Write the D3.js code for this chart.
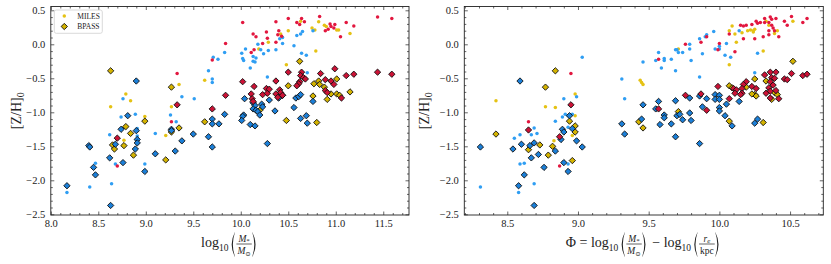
<!DOCTYPE html>
<html><head><meta charset="utf-8">
<script src="https://cdn.jsdelivr.net/npm/d3@7"></script>
<style>body{margin:0;background:#fff}svg{display:block}text{font-family:"Liberation Serif","DejaVu Serif",serif;fill:#222;white-space:pre}</style>
</head><body><svg id="c" width="831" height="264"></svg>
<script>
// ---------------- DATA ----------------
const yTicks = [-2.5, -2.0, -1.5, -1.0, -0.5, 0.0, 0.5];
const xTicksLeft = [8.0, 8.5, 9.0, 9.5, 10.0, 10.5, 11.0, 11.5];
const xTicksRight = [8.5, 9.0, 9.5, 10.0, 10.5];
const legendLabels = ["MILES", "BPASS"];

// Left panel: x = log10(M*/Msun)
const leftMilesYellow = [[8.63,-0.92],[8.79,-0.73],[8.84,-0.83],[8.99,-1.06],[9.27,-0.92],[9.35,-0.59],[9.62,-0.53],[8.77,-1.41],[9.21,-1.34],[10.29,0.03],[10.19,-0.07],[10.50,0.20],[10.42,0.15],[10.63,0.34],[10.82,0.33],[10.75,0.24],[10.78,0.21],[10.88,0.28],[10.90,0.26],[11.01,0.21],[11.03,0.21],[11.15,0.16],[10.79,-0.10],[10.48,-0.30]];
const leftMilesRed = [[9.33,-0.43],[9.27,-1.14],[8.70,-1.79],[10.02,0.32],[10.37,0.33],[10.50,0.38],[10.59,0.32],[10.62,0.29],[10.64,0.38],[10.67,0.33],[10.83,0.41],[10.94,0.30],[10.99,0.29],[10.95,0.26],[10.98,0.24],[10.89,0.20],[10.92,0.22],[11.11,0.32],[11.19,0.27],[11.05,0.11],[11.44,0.40],[11.59,0.38],[10.40,0.20],[10.39,0.14],[10.43,0.12],[10.27,0.18],[10.28,0.09],[10.13,0.15],[10.16,0.11],[10.23,0.01],[10.37,0.03],[10.14,-0.08],[10.11,-0.12],[9.84,0.01],[9.70,-0.23]];
const leftMilesBlue = [[9.66,-0.39],[8.76,-0.80],[8.89,-1.03],[8.74,-1.07],[9.38,-0.77],[9.51,-0.80],[9.26,-1.04],[9.32,-1.14],[8.91,-1.24],[8.62,-1.33],[8.91,-1.35],[9.10,-1.31],[8.68,-1.76],[8.47,-1.75],[8.99,-1.76],[8.17,-2.18],[8.41,-2.10],[8.64,-2.05],[10.41,0.08],[10.44,0.10],[10.44,0.01],[10.18,0.00],[10.21,-0.08],[10.24,-0.14],[10.29,-0.09],[10.37,-0.08],[10.05,-0.07],[10.01,-0.13],[10.02,-0.21],[10.03,-0.24],[10.13,-0.18],[10.16,-0.20],[10.13,-0.25],[10.15,-0.26],[10.10,-0.35],[10.56,-0.02],[10.59,0.13],[10.65,0.19],[10.63,0.15],[10.76,0.20],[10.64,-0.13],[10.69,-0.16],[9.83,-0.12],[9.71,-0.19],[9.76,-0.22],[9.70,-0.51],[9.70,-0.56],[10.28,-0.48],[10.70,-0.42]];
const leftBpassYellow = [[8.63,-0.39],[9.27,-0.63],[8.99,-1.13],[9.62,-1.14],[8.79,-1.21],[8.84,-1.31],[8.65,-1.48],[8.77,-1.49],[8.67,-1.54],[8.87,-1.63],[9.27,-1.29],[9.35,-1.23],[9.21,-1.70],[10.62,-0.25],[10.50,-0.61],[11.01,-0.51],[10.77,-0.58],[10.82,-0.54],[10.83,-0.59],[10.88,-0.63],[10.95,-0.73],[11.01,-0.73],[11.04,-0.75],[11.15,-0.70],[10.91,-0.81],[10.76,-0.76],[10.20,-0.97],[10.48,-1.12],[10.80,-1.15]];
const leftBpassRed = [[9.33,-0.89],[8.70,-1.38],[10.02,-0.55],[10.14,-0.62],[10.37,-0.54],[10.50,-0.41],[10.64,-0.41],[10.63,-0.46],[10.66,-0.49],[10.68,-0.51],[10.62,-0.55],[10.61,-0.58],[10.59,-0.61],[10.84,-0.43],[10.99,-0.36],[11.11,-0.46],[11.19,-0.44],[11.44,-0.41],[11.59,-0.44],[10.89,-0.52],[10.95,-0.54],[10.98,-0.59],[10.89,-0.68],[10.91,-0.71],[11.06,-0.79],[9.84,-0.75],[9.70,-0.95],[10.11,-0.73],[10.12,-0.80],[10.13,-0.84],[10.23,-0.74],[10.27,-0.65],[10.28,-0.72],[10.30,-0.66],[10.37,-0.73],[10.41,-0.67],[10.42,-0.71],[10.44,-0.75],[10.39,-0.78]];
const leftBpassBlue = [[8.90,-0.54],[8.81,-1.05],[8.74,-1.25],[8.90,-1.27],[8.68,-1.47],[8.91,-1.40],[8.91,-1.45],[8.89,-1.54],[8.40,-1.49],[8.41,-1.51],[8.62,-1.67],[9.27,-1.25],[9.27,-1.27],[9.50,-1.32],[9.66,-1.36],[9.10,-1.61],[9.31,-1.57],[9.38,-1.42],[8.76,-1.74],[8.45,-1.81],[8.47,-1.92],[8.99,-1.87],[8.17,-2.08],[8.63,-2.37],[9.70,-1.51],[10.28,-1.46],[10.04,-0.80],[10.40,-0.79],[10.44,-0.75],[10.30,-0.82],[10.13,-0.86],[10.15,-0.90],[10.13,-0.95],[10.16,-0.97],[10.22,-0.88],[10.23,-0.92],[10.18,-0.99],[10.20,-1.04],[10.36,-0.98],[10.56,-0.93],[10.58,-0.79],[10.61,-0.77],[10.63,-0.74],[10.76,-0.84],[9.83,-1.03],[10.03,-1.04],[10.02,-1.06],[10.01,-1.12],[10.63,-1.09],[10.69,-1.05],[10.70,-1.16],[9.70,-1.10],[9.70,-1.17],[9.77,-1.17],[10.10,-1.18],[10.15,-1.20]];

// Right panel: x = Phi
const rightMilesYellow = [[8.42,-0.83],[8.98,-0.73],[8.77,-0.92],[8.84,-0.93],[8.98,-1.05],[8.83,-1.42],[8.96,-1.34],[9.44,-0.53],[9.45,-0.56],[9.46,-0.59],[10.33,0.34],[10.35,0.28],[10.52,0.34],[10.41,0.20],[10.39,0.16],[10.25,0.22],[10.24,0.20],[10.24,0.18],[10.22,0.21],[10.20,0.20],[10.16,0.17],[10.09,0.27],[10.07,0.20],[10.11,0.15],[10.12,0.03],[9.71,-0.07],[10.07,-0.30],[10.31,-0.10]];
const rightMilesRed = [[8.95,-0.43],[8.65,-1.14],[8.87,-1.79],[10.32,0.38],[10.36,0.40],[10.37,0.37],[10.40,0.38],[10.32,0.32],[10.26,0.34],[10.27,0.31],[10.29,0.32],[10.23,0.29],[10.19,0.28],[10.17,0.27],[10.15,0.28],[10.51,0.41],[10.59,0.32],[10.62,0.38],[10.46,0.34],[10.48,0.28],[10.35,0.32],[10.37,0.28],[10.38,0.24],[10.35,0.20],[10.39,0.20],[10.42,0.11],[10.35,0.14],[10.31,0.11],[10.25,0.08],[10.07,0.15],[10.17,0.08],[10.11,-0.11],[10.00,0.01],[9.99,-0.08],[9.91,0.11],[9.87,0.03],[9.76,0.00],[9.57,-0.22]];
const rightMilesBlue = [[9.03,-0.19],[8.90,-0.80],[8.99,-0.77],[8.91,-1.03],[8.89,-1.07],[8.93,-1.05],[8.96,-1.03],[8.84,-1.13],[8.69,-1.23],[8.55,-1.38],[8.59,-1.33],[8.67,-1.33],[8.71,-1.31],[8.59,-1.76],[8.62,-1.75],[8.58,-2.18],[8.69,-2.05],[8.93,-1.76],[8.93,-1.22],[8.31,-2.10],[10.14,0.20],[10.05,0.01],[10.00,-0.03],[10.00,-0.07],[9.97,-0.07],[9.96,0.19],[9.91,0.14],[9.90,0.11],[9.86,0.08],[9.79,0.00],[9.79,-0.07],[9.70,-0.08],[9.69,-0.08],[9.71,-0.12],[9.74,-0.12],[9.66,-0.22],[9.61,-0.21],[9.61,-0.24],[9.55,-0.24],[9.57,-0.12],[9.88,-0.14],[9.80,-0.24],[9.46,-0.26],[9.59,-0.35],[9.69,-0.39],[9.86,-0.48],[9.31,-0.51],[9.33,-0.80],[10.04,-0.16],[10.08,-0.19],[10.27,-0.13],[10.25,-0.42]];
const rightBpassYellow = [[8.84,-0.39],[8.77,-0.63],[8.42,-1.32],[8.65,-1.55],[8.73,-1.48],[8.79,-1.63],[8.82,-1.50],[8.96,-1.71],[8.98,-1.20],[8.98,-1.29],[8.94,-1.13],[9.43,-1.14],[9.46,-1.23],[9.71,-0.99],[10.07,-1.13],[10.52,-0.25],[10.25,-0.51],[10.33,-0.54],[10.19,-0.63],[10.07,-0.61],[10.09,-0.64],[10.25,-0.74],[10.26,-0.76],[10.23,-0.73],[10.39,-0.71],[10.41,-0.74],[10.37,-0.81],[10.31,-1.15]];
const rightBpassRed = [[8.95,-0.89],[8.65,-1.26],[8.87,-1.36],[10.32,-0.45],[10.36,-0.41],[10.37,-0.49],[10.39,-0.50],[10.40,-0.41],[10.46,-0.51],[10.48,-0.52],[10.51,-0.43],[10.59,-0.46],[10.62,-0.44],[10.36,-0.55],[10.38,-0.60],[10.35,-0.64],[10.19,-0.55],[10.17,-0.59],[10.16,-0.65],[10.23,-0.62],[10.26,-0.65],[10.10,-0.65],[10.12,-0.67],[10.11,-0.72],[10.07,-0.80],[10.16,-0.72],[10.15,-0.74],[10.33,-0.72],[10.36,-0.69],[10.40,-0.68],[10.36,-0.79],[10.42,-0.80],[9.99,-0.62],[9.87,-0.73],[9.76,-0.75],[9.91,-0.97],[9.57,-0.95]];
const rightBpassBlue = [[8.59,-0.54],[8.94,-1.05],[8.31,-1.51],[8.54,-1.54],[8.60,-1.47],[8.66,-1.49],[8.69,-1.45],[8.72,-1.62],[8.67,-1.67],[8.76,-1.81],[8.62,-1.92],[8.58,-2.08],[8.69,-2.37],[8.84,-1.57],[8.89,-1.25],[8.90,-1.29],[8.88,-1.40],[8.90,-1.74],[8.93,-1.87],[8.96,-1.24],[8.99,-1.42],[9.03,-1.51],[9.31,-1.17],[9.33,-1.32],[9.45,-1.10],[9.46,-0.89],[9.57,-0.84],[9.55,-0.95],[9.61,-1.04],[9.61,-1.08],[9.58,-1.18],[9.66,-1.17],[9.69,-0.83],[9.69,-1.36],[9.70,-1.05],[9.72,-1.03],[9.74,-1.11],[9.79,-1.01],[9.80,-1.12],[9.79,-0.79],[9.86,-0.76],[9.91,-0.80],[9.88,-0.92],[9.86,-1.46],[9.97,-0.74],[10.00,-0.75],[9.97,-0.81],[10.00,-0.81],[10.00,-0.93],[10.00,-0.98],[10.04,-1.05],[10.05,-0.88],[10.09,-1.20],[10.14,-0.84],[10.27,-1.10],[10.25,-1.16]];

// ---------------- STYLE ----------------
const milesColor = {yellow:"#e5c214", blue:"#2f9ef3", red:"#e2173f"};
const bpassColor = {yellow:"#d4b300", blue:"#1b7fd8", red:"#cc1236"};
const ink = "#222";

const svg = d3.select("#c");
const yRange = [215, 6.5];
const yDomain = [-2.5103, 0.5559];

const panels = [
  {x0:50.8, x1:409, dom:[8.0, 11.771], ticks:xTicksLeft,
   miles:{yellow:leftMilesYellow, blue:leftMilesBlue, red:leftMilesRed},
   bpass:{yellow:leftBpassYellow, blue:leftBpassBlue, red:leftBpassRed}, ylabX:20.5},
  {x0:464.3, x1:823.3, dom:[8.196, 10.735], ticks:xTicksRight,
   miles:{yellow:rightMilesYellow, blue:rightMilesBlue, red:rightMilesRed},
   bpass:{yellow:rightBpassYellow, blue:rightBpassBlue, red:rightBpassRed}, ylabX:428.5}
];

function minorVals(dom, step){
  const out=[]; const s=Math.ceil(dom[0]/step-1e-9), e=Math.floor(dom[1]/step+1e-9);
  for(let i=s;i<=e;i++){ const v=+(i*step).toFixed(3); if(Math.abs(v/0.5-Math.round(v/0.5))>1e-6) out.push(v);} return out;
}
const fmt = d3.format(".1f");
const diamond = d3.symbol(d3.symbolSquare, 20);

panels.forEach(p=>{
  const x = d3.scaleLinear().domain(p.dom).range([p.x0,p.x1]);
  const y = d3.scaleLinear().domain(yDomain).range(yRange);
  const g = svg.append("g");

  ["yellow","blue","red"].forEach(c=>{
    g.append("g").selectAll("circle").data(p.miles[c]).join("circle")
      .attr("cx",d=>x(d[0])).attr("cy",d=>y(d[1])).attr("r",1.75).attr("fill",milesColor[c]);
  });
  ["yellow","blue","red"].forEach(c=>{
    g.append("g").selectAll("path").data(p.bpass[c]).join("path")
      .attr("d",diamond).attr("transform",d=>`translate(${x(d[0])},${y(d[1])}) rotate(45)`)
      .attr("fill",bpassColor[c]).attr("stroke","#111").attr("stroke-width",0.85);
  });

  const mkAx = (axis, tr, vals, size, labels)=>{
    const a = g.append("g").attr("transform",tr)
      .call(axis.tickValues(vals).tickSize(size).tickPadding(labels?4.5:0).tickFormat(labels?fmt:()=>""));
    a.select(".domain").remove();
    a.selectAll("line").attr("stroke",ink).attr("stroke-width",0.7);
    a.selectAll("text").attr("font-size",10.5).attr("font-family",'"Liberation Serif",serif').attr("fill",ink);
    return a;
  };
  const xMin = minorVals(p.dom, 0.1), yMin = minorVals(yDomain, 0.1);
  mkAx(d3.axisBottom(x), `translate(0,${yRange[0]})`, p.ticks, -3.5, true);
  mkAx(d3.axisBottom(x), `translate(0,${yRange[0]})`, xMin, -2, false);
  mkAx(d3.axisTop(x), `translate(0,${yRange[1]})`, p.ticks, -3.5, false);
  mkAx(d3.axisTop(x), `translate(0,${yRange[1]})`, xMin, -2, false);
  mkAx(d3.axisLeft(y), `translate(${p.x0},0)`, yTicks, -3.5, true).selectAll("text").attr("dx","-1");
  mkAx(d3.axisLeft(y), `translate(${p.x0},0)`, yMin, -2, false);
  mkAx(d3.axisRight(y), `translate(${p.x1},0)`, yTicks, -3.5, false);
  mkAx(d3.axisRight(y), `translate(${p.x1},0)`, yMin, -2, false);

  g.append("rect").attr("x",p.x0).attr("y",yRange[1]).attr("width",p.x1-p.x0).attr("height",yRange[0]-yRange[1])
    .attr("fill","none").attr("stroke",ink).attr("stroke-width",0.9);

  const yl = g.append("text").attr("transform",`translate(${p.ylabX},${(yRange[0]+yRange[1])/2}) rotate(-90)`)
    .attr("text-anchor","middle").attr("font-size",14);
  yl.append("tspan").text("[Z/H]");
  yl.append("tspan").attr("dy",3).attr("font-size",10).text("0");
});

// ---- math-like x labels ----
function run(g, x, y, str, size, italic){
  const t = g.append("text").attr("x",x).attr("y",y).attr("font-size",size)
    .style("font-style", italic?"italic":"normal").text(str);
  return t.node().getComputedTextLength();
}
function seq(g, x, items){ let w=0; items.forEach(it=>{ w += run(g, x+w, it[3]||0, it[0], it[1], it[2]) + (it[4]||0); }); return w; }
function frac(g, x, num, den){
  const gn = g.append("g"), gd = g.append("g");
  const wn = seq(gn, 0, num), wd = seq(gd, 0, den);
  const W = Math.max(wn, wd) + 2;
  gn.attr("transform",`translate(${x+(W-wn)/2},-5.5)`);
  gd.attr("transform",`translate(${x+(W-wd)/2},7)`);
  g.append("line").attr("x1",x).attr("x2",x+W).attr("y1",-3).attr("y2",-3).attr("stroke",ink).attr("stroke-width",0.7);
  return W;
}
function paren(g, x, left){
  const top=-15, bot=10, mid=(top+bot)/2, w=5;
  let d;
  if(left) d=`M${x+w},${top} Q${x-1.5},${mid} ${x+w},${bot} L${x+w},${bot-0.6} Q${x+0.9},${mid} ${x+w},${top+0.6} Z`;
  else d=`M${x},${top} Q${x+w+1.5},${mid} ${x},${bot} L${x},${bot-0.6} Q${x+w-0.9},${mid} ${x},${top+0.6} Z`;
  g.append("path").attr("d",d).attr("fill",ink);
  return w+1.5;
}
function logPart(g, x){ return seq(g, x, [["log",14,false],["10",9.5,false,3.5,1.5]]); }
function logMass(g, x){
  let w = logPart(g, x);
  w += paren(g, x+w, true);
  w += frac(g, x+w, [["M",9.5,true],["*",7,false,1.5]], [["M",9.5,true],["\u2299",6.5,false,1.5]]);
  w += 0.5 + paren(g, x+w+0.5, false);
  return w;
}
{
  const p = panels[0];
  const g = svg.append("g");
  const w = logMass(g, 0);
  g.attr("transform",`translate(${(p.x0+p.x1)/2 - w/2},247)`);
}
{
  const p = panels[1];
  const g = svg.append("g");
  let w = seq(g, 0, [["\u03A6",14,false,0,3.5],["=",14,false,0,3.5]]);
  w += logMass(g, w);
  w += 3.5 + seq(g, w+3.5, [["\u2212",14,false,0,3.5]]);
  w += logPart(g, w);
  w += paren(g, w, true);
  w += frac(g, w, [["r",9.5,true],["e",7,true,1.5]], [["kpc",9.5,false]]);
  w += 0.5 + paren(g, w+0.5, false);
  g.attr("transform",`translate(${(p.x0+p.x1)/2 - w/2},247)`);
}

// ---- legend ----
{
  const lg = svg.append("g");
  lg.append("rect").attr("x",54.3).attr("y",10).attr("width",48).attr("height",23.3).attr("rx",2)
    .attr("fill","#fff").attr("fill-opacity",0.85).attr("stroke","#d0d0d0").attr("stroke-width",0.8);
  lg.append("circle").attr("cx",64.3).attr("cy",16).attr("r",1.75).attr("fill",milesColor.yellow);
  lg.append("path").attr("d",diamond).attr("transform","translate(64.3,26.5) rotate(45)")
    .attr("fill",bpassColor.yellow).attr("stroke","#111").attr("stroke-width",0.85);
  lg.selectAll("text.l").data(legendLabels).join("text").attr("class","l")
    .attr("x",77.3).attr("y",(d,i)=>18.7+i*10.6).attr("font-size",7.5).text(d=>d);
}
</script></body></html>
